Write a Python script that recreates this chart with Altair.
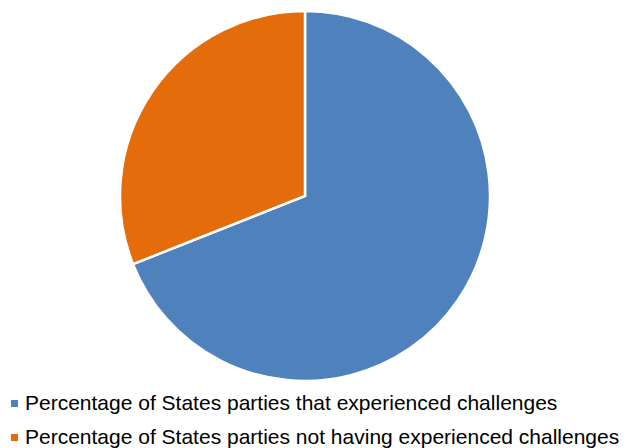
import altair as alt
import pandas as pd

categories = [
    "Percentage of States parties that experienced challenges",
    "Percentage of States parties not having experienced challenges",
]
values = [69, 31]
colors = ["#4F81BD", "#E46C0A"]

df = pd.DataFrame({"category": categories, "value": values, "order": [0, 1]})

chart = (
    alt.Chart(df)
    .mark_arc(radius=185, stroke="white", strokeWidth=2.5)
    .encode(
        theta=alt.Theta("value:Q", stack=True),
        order=alt.Order("order:Q"),
        x=alt.value(297),
        y=alt.value(188),
        color=alt.Color(
            "category:N",
            scale=alt.Scale(domain=categories, range=colors),
            sort=categories,
            legend=alt.Legend(
                title=None,
                orient="none",
                legendX=-4,
                legendY=385,
                symbolType="square",
                symbolSize=49,
                symbolStrokeWidth=0,
                labelFontSize=21,
                labelFont="Liberation Sans",
                labelColor="#000000",
                labelLimit=0,
                labelOffset=0,
                rowPadding=12,
                padding=0,
            ),
        ),
    )
    .properties(
        width=614,
        height=440,
        padding=0,
        autosize=alt.AutoSizeParams(type="none"),
    )
    .configure_view(stroke=None)
)

chart.save("out.html", embed_options={"renderer": "svg", "actions": False})
